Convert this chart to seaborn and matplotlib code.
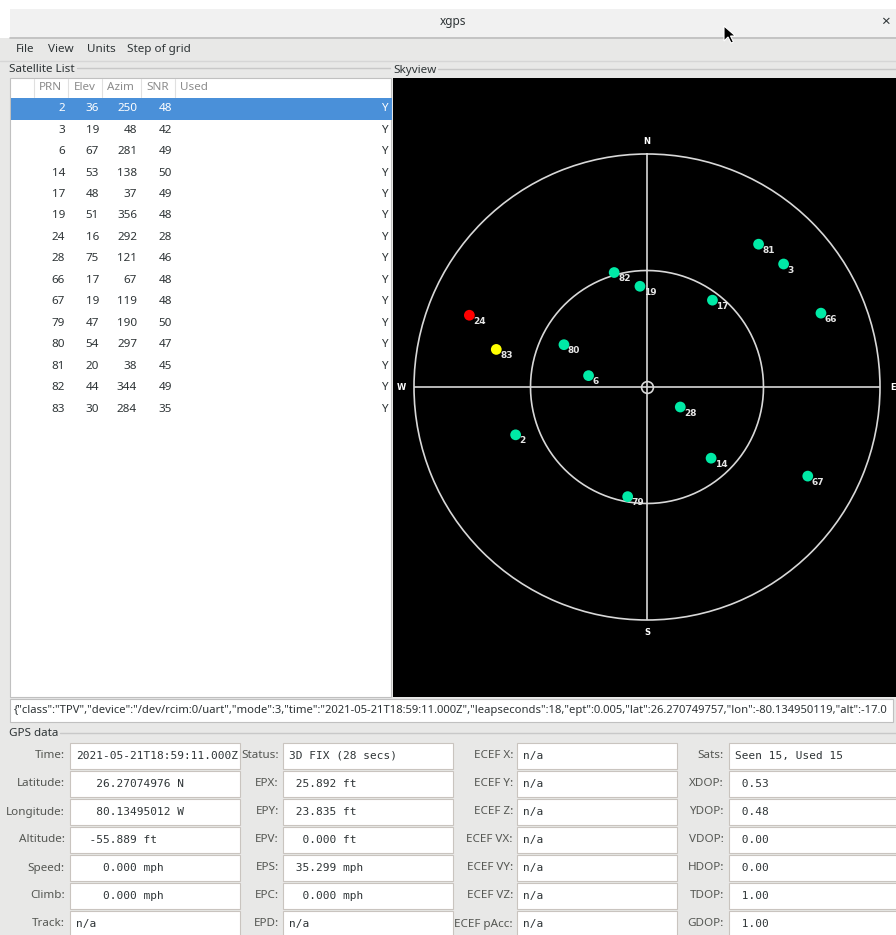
import numpy as np
import pandas as pd
import matplotlib
matplotlib.use("Agg")
import matplotlib.pyplot as plt
import matplotlib.patches as mpatches
import seaborn as sns

# Satellite list
prn = [2, 3, 6, 14, 17, 19, 24, 28, 66, 67, 79, 80, 81, 82, 83]
elev = [36, 19, 67, 53, 48, 51, 16, 75, 17, 19, 47, 54, 20, 44, 30]
azim = [250, 48, 281, 138, 37, 356, 292, 121, 67, 119, 190, 297, 38, 344, 284]
snr = [48, 42, 49, 50, 49, 48, 28, 46, 48, 48, 50, 47, 45, 49, 35]
used = ["Y"] * 15
headers = ["PRN", "Elev", "Azim", "SNR", "Used"]

menu_items = ["File", "View", "Units", "Step of grid"]

json_line = ('{"class":"TPV","device":"/dev/rcim:0/uart","mode":3,"time":"2021-05-21T18:59:11.000Z",'
             '"leapseconds":18,"ept":0.005,"lat":26.270749757,"lon":-80.134950119,"alt":-17.0')

# GPS data panel
col1_labels = ["Time:", "Latitude:", "Longitude:", "Altitude:", "Speed:", "Climb:", "Track:"]
col1_values = ["2021-05-21T18:59:11.000Z", "   26.27074976 N", "   80.13495012 W",
               "  -55.889 ft", "    0.000 mph", "    0.000 mph", "n/a"]
col2_labels = ["Status:", "EPX:", "EPY:", "EPV:", "EPS:", "EPC:", "EPD:"]
col2_values = ["3D FIX (28 secs)", " 25.892 ft", " 23.835 ft", "  0.000 ft",
               " 35.299 mph", "  0.000 mph", "n/a"]
col3_labels = ["ECEF X:", "ECEF Y:", "ECEF Z:", "ECEF VX:", "ECEF VY:", "ECEF VZ:", "ECEF pAcc:"]
col3_values = ["n/a"] * 7
col4_labels = ["Sats:", "XDOP:", "YDOP:", "VDOP:", "HDOP:", "TDOP:", "GDOP:"]
col4_values = ["Seen 15, Used 15", " 0.53", " 0.48", " 0.00", " 0.00", " 1.00", " 1.00"]

sns.set_theme(style="white")
plt.rcParams["font.family"] = ["Noto Sans", "DejaVu Sans"]

W, H = 896, 935
fig = plt.figure(figsize=(W / 100, H / 100), dpi=100)
fig.patch.set_facecolor("#e8e8e7")

ax = fig.add_axes([0, 0, 1, 1])
ax.set_xlim(0, W)
ax.set_ylim(H, 0)
ax.axis("off")

UI = 8.4
DARK = "#2e3436"
BORDER = "#c9c4bf"


def rect(x0, y0, x1, y1, fc, ec="none", lw=1.0, z=1):
    ax.add_patch(mpatches.Rectangle((x0, y0), x1 - x0, y1 - y0, facecolor=fc,
                                    edgecolor=ec, linewidth=lw, zorder=z))


# title bar
rect(0, 0, W, 9, "white", z=0)
rect(0, 0, 10, 38, "white", z=0)
rect(10, 9, W, 37, "#f1f1f1")
ax.plot([10, W], [37.5, 37.5], color="#bdbdbd", lw=1.2, zorder=2)
ax.text(453, 22, "xgps", ha="center", va="center", fontsize=8.5, fontweight="bold", color=DARK)
ax.text(885, 22, "×", ha="center", va="center", fontsize=11, fontweight="bold", color=DARK)
cursor = [(724, 26), (724, 41), (728, 37), (731, 43), (733.5, 42), (730.5, 36), (735.5, 36)]
ax.add_patch(mpatches.Polygon(cursor, closed=True, facecolor="black", edgecolor="white",
                              lw=0.8, zorder=5))

# menu bar
menu_x = [16, 48, 87, 127]
for x, m in zip(menu_x, menu_items):
    ax.text(x, 49.5, m, ha="left", va="center", fontsize=UI, color=DARK)
ax.plot([0, W], [61, 61], color="#d6d6d6", lw=1, zorder=2)

# frame labels
ax.text(9, 69, "Satellite List", ha="left", va="center", fontsize=UI, color=DARK)
ax.plot([77, 390], [68, 68], color="#c8c8c8", lw=1)
ax.text(393, 71, "Skyview", ha="left", va="center", fontsize=UI, color=DARK)
ax.plot([438, W], [69, 69], color="#c8c8c8", lw=1)

# satellite list table
rect(10, 78, 391, 697, "white", ec="#c0c0c0", lw=0.8)
sep_x = [34, 68, 102, 141, 175]
for x in sep_x:
    ax.plot([x, x], [79, 97], color="#e0e0e0", lw=0.8, zorder=2)
head_x = [39, 74, 107, 146, 180]
for x, h in zip(head_x, headers):
    ax.text(x, 88, h, ha="left", va="center", fontsize=UI, color="#8c8c8c", zorder=3)

row_y = [108.7 + 21.45 * i for i in range(len(prn))]
rect(11, 98, 392, 120, "#4a90d9", z=2)
right_x = [65, 99, 137, 172]
for i, y in enumerate(row_y):
    c = "white" if i == 0 else DARK
    for x, v in zip(right_x, [prn[i], elev[i], azim[i], snr[i]]):
        ax.text(x, y, str(v), ha="right", va="center", fontsize=UI, color=c, zorder=3)
    ax.text(388, y, used[i], ha="right", va="center", fontsize=UI, color=c, zorder=3)

# skyview background
rect(393, 78, W, 697, "black", z=1)

# json line
rect(10, 699, 893, 722, "white", ec="#c0c0c0", lw=0.8)
clip = mpatches.Rectangle((10, 699), 883, 23, transform=ax.transData)
t = ax.text(14, 711, json_line, ha="left", va="center", fontsize=8.1, color=DARK, zorder=3)
t.set_clip_path(clip)

# GPS data
ax.text(9, 734, "GPS data", ha="left", va="center", fontsize=UI, color=DARK)
ax.plot([60, W], [733, 733], color="#c8c8c8", lw=1)

boxes = [(70, 240), (283, 453), (517, 677), (729, 905)]
label_right = [65, 279, 513, 724]
columns = [(col1_labels, col1_values), (col2_labels, col2_values),
           (col3_labels, col3_values), (col4_labels, col4_values)]
for (bx0, bx1), lx, (labels, values) in zip(boxes, label_right, columns):
    for i, (lab, val) in enumerate(zip(labels, values)):
        y = 756 + 28 * i
        rect(bx0, y - 13, bx1, y + 13, "white", ec=BORDER, lw=0.8, z=2)
        ax.text(lx, y, lab, ha="right", va="center", fontsize=UI, color="#555753", zorder=3)
        ax.text(bx0 + 6, y, val, ha="left", va="center", fontsize=8,
                family="DejaVu Sans Mono", color=DARK, zorder=3)

# skyview polar plot
R, cx, cy = 233, 647, 387
sky = fig.add_axes([(cx - R) / W, 1 - (cy + R) / H, 2 * R / W, 2 * R / H], projection="polar")
sky.set_facecolor("none")
sky.set_theta_zero_location("N")
sky.set_theta_direction(-1)
sky.set_ylim(0, 90)
sky.grid(False)
sky.set_xticks([])
sky.set_yticks([])
sky.spines["polar"].set_color("#d8d8d8")
sky.spines["polar"].set_linewidth(1.2)

ring = np.linspace(0, 2 * np.pi, 361)
sky.plot(ring, np.full_like(ring, 45.0), color="#d8d8d8", lw=1.2)
for a in [0, 90]:
    th = np.deg2rad(a)
    sky.plot([th, th, th + np.pi], [90, 0, 90], color="#d8d8d8", lw=1.2)
sky.plot(0, 0, "o", mfc="none", mec="#d8d8d8", mew=1.2, ms=8.5)
for a, lab in zip([0, 90, 180, 270], ["N", "E", "S", "W"]):
    sky.text(np.deg2rad(a), 95, lab, ha="center", va="center", fontsize=6,
             fontweight="bold", family="DejaVu Sans", color="white", clip_on=False)

df = pd.DataFrame({"prn": prn, "elev": elev, "azim": azim, "snr": snr})
df["theta"] = np.deg2rad(df["azim"])
df["r"] = 90 - df["elev"]
df["quality"] = np.where(df["snr"] < 30, "low", np.where(df["snr"] < 40, "mid", "good"))
palette = {"low": "#ff0000", "mid": "#ffff00", "good": "#00eaa6"}
sns.scatterplot(data=df, x="theta", y="r", hue="quality", palette=palette, s=60,
                edgecolor="none", legend=False, ax=sky, zorder=4)
sky.set_xlabel("")
sky.set_ylabel("")
for _, row in df.iterrows():
    sky.annotate(str(row["prn"]), (row["theta"], row["r"]), xytext=(4, -6),
                 textcoords="offset pixels", ha="left", va="center", fontsize=6.5,
                 fontweight="bold", family="DejaVu Sans", color="#e6e6e6", zorder=5)

fig.savefig("out.png", dpi=100)
